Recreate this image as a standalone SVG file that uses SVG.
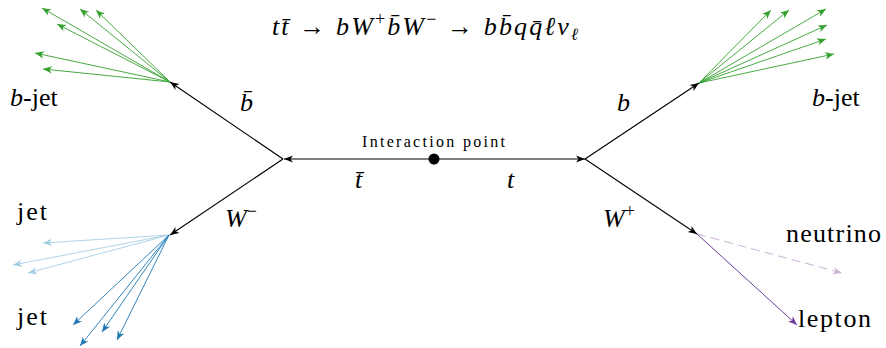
<svg xmlns="http://www.w3.org/2000/svg" width="886" height="348" viewBox="0 0 886 348">
<defs>
<marker id="ak" viewBox="-10 -5 11 10" refX="0" refY="0" markerWidth="11" markerHeight="10" markerUnits="userSpaceOnUse" orient="auto"><path d="M0,0 L-9,-3.6 L-6.5,0 L-9,3.6 Z" fill="#000"/></marker>
<marker id="ag" viewBox="-10 -5 11 10" refX="0" refY="0" markerWidth="11" markerHeight="10" markerUnits="userSpaceOnUse" orient="auto"><path d="M0,0 L-9,-3.6 L-6.5,0 L-9,3.6 Z" fill="#33a02c"/></marker>
<marker id="alb" viewBox="-10 -5 11 10" refX="0" refY="0" markerWidth="11" markerHeight="10" markerUnits="userSpaceOnUse" orient="auto"><path d="M0,0 L-9,-3.6 L-6.5,0 L-9,3.6 Z" fill="#a6cee3"/></marker>
<marker id="adb" viewBox="-10 -5 11 10" refX="0" refY="0" markerWidth="11" markerHeight="10" markerUnits="userSpaceOnUse" orient="auto"><path d="M0,0 L-9,-3.6 L-6.5,0 L-9,3.6 Z" fill="#1f78b4"/></marker>
<marker id="alp" viewBox="-10 -5 11 10" refX="0" refY="0" markerWidth="11" markerHeight="10" markerUnits="userSpaceOnUse" orient="auto"><path d="M0,0 L-9,-3.6 L-6.5,0 L-9,3.6 Z" fill="#cab2d6"/></marker>
<marker id="adp" viewBox="-10 -5 11 10" refX="0" refY="0" markerWidth="11" markerHeight="10" markerUnits="userSpaceOnUse" orient="auto"><path d="M0,0 L-9,-3.6 L-6.5,0 L-9,3.6 Z" fill="#6a3d9a"/></marker>
</defs>
<g id="connectors" fill="none">
  <g stroke="#000" stroke-width="1.1" marker-end="url(#ak)">
    <line x1="434" y1="159" x2="284" y2="159"/>
    <line x1="434" y1="159" x2="585" y2="159"/>
    <line x1="283" y1="159" x2="170" y2="82"/>
    <line x1="283" y1="159" x2="170" y2="235"/>
    <line x1="585" y1="159" x2="699" y2="83"/>
    <line x1="585" y1="159" x2="697" y2="234"/>
  </g>
  <g id="bbar-jet" stroke="#33a02c" stroke-width="0.9" marker-end="url(#ag)">
    <line x1="170" y1="82" x2="42" y2="8"/>
    <line x1="170" y1="82" x2="80" y2="9"/>
    <line x1="170" y1="82" x2="96" y2="10"/>
    <line x1="170" y1="82" x2="57" y2="24"/>
    <line x1="170" y1="82" x2="35" y2="53"/>
    <line x1="170" y1="82" x2="43" y2="69"/>
  </g>
  <g id="b-jet" stroke="#33a02c" stroke-width="0.9" marker-end="url(#ag)">
    <line x1="699" y1="83" x2="771" y2="10"/>
    <line x1="699" y1="83" x2="789" y2="10"/>
    <line x1="699" y1="83" x2="826" y2="9"/>
    <line x1="699" y1="83" x2="827" y2="25"/>
    <line x1="699" y1="83" x2="826" y2="39"/>
    <line x1="699" y1="83" x2="834" y2="54"/>
  </g>
  <g id="jet1" stroke="#a6cee3" stroke-width="0.9" marker-end="url(#alb)">
    <line x1="169" y1="235" x2="43" y2="243"/>
    <line x1="169" y1="235" x2="13" y2="265"/>
    <line x1="169" y1="235" x2="28" y2="273"/>
  </g>
  <g id="jet2" stroke="#1f78b4" stroke-width="0.9" marker-end="url(#adb)">
    <line x1="169" y1="235" x2="73" y2="325"/>
    <line x1="169" y1="235" x2="80" y2="346"/>
    <line x1="169" y1="235" x2="102" y2="332"/>
    <line x1="169" y1="235" x2="117" y2="340"/>
  </g>
  <line stroke="#cab2d6" stroke-width="1" stroke-dasharray="9 5" x1="697" y1="234" x2="842" y2="273" marker-end="url(#alp)"/>
  <line stroke="#6a3d9a" stroke-width="1" x1="697" y1="234" x2="797" y2="325" marker-end="url(#adp)"/>
</g>
<circle id="interaction-point" cx="434" cy="159" r="5.5" fill="#000"/>
<text id="ip-label" x="362" y="147" font-size="16" font-family="Liberation Serif" textLength="143" lengthAdjust="spacing">Interaction point</text>
<text id="title" x="272" y="35" font-size="26" font-family="Liberation Serif" textLength="306" lengthAdjust="spacing"><tspan font-style="italic">tt&#x304;</tspan> &#x2192; <tspan font-style="italic">bW</tspan><tspan font-size="18" dy="-10">+</tspan><tspan font-style="italic" dy="10">b&#x304;W</tspan><tspan font-size="18" dy="-10">&#x2212;</tspan><tspan dy="10"> &#x2192; </tspan><tspan font-style="italic">bb&#x304;qq&#x304;&#x2113;v</tspan><tspan font-style="italic" font-size="17" dy="5">&#x2113;</tspan></text>
<text id="tbar-label" x="355" y="188" font-size="26" font-family="Liberation Serif" font-style="italic">t&#x304;</text>
<text id="t-label" x="507" y="188" font-size="26" font-family="Liberation Serif" font-style="italic">t</text>
<text id="bbar-label" x="240" y="111" font-size="26" font-family="Liberation Serif" font-style="italic">b&#x304;</text>
<text id="b-label" x="617" y="111" font-size="26" font-family="Liberation Serif" font-style="italic">b</text>
<text id="wminus-label" x="225" y="227" font-size="26" font-family="Liberation Serif"><tspan font-style="italic">W</tspan><tspan font-size="18" dy="-10">&#x2212;</tspan></text>
<text id="wplus-label" x="603" y="227" font-size="26" font-family="Liberation Serif"><tspan font-style="italic">W</tspan><tspan font-size="18" dy="-10">+</tspan></text>
<text id="bjet-left" x="10" y="106" font-size="26" font-family="Liberation Serif"><tspan font-style="italic">b</tspan>-jet</text>
<text id="bjet-right" x="812" y="106" font-size="26" font-family="Liberation Serif"><tspan font-style="italic">b</tspan>-jet</text>
<text id="jet-upper" x="17" y="220" font-size="26" font-family="Liberation Serif" textLength="30" lengthAdjust="spacing">jet</text>
<text id="jet-lower" x="17" y="325" font-size="26" font-family="Liberation Serif" textLength="30" lengthAdjust="spacing">jet</text>
<text id="neutrino" x="786" y="242" font-size="26" font-family="Liberation Serif" textLength="95" lengthAdjust="spacing">neutrino</text>
<text id="lepton" x="798" y="327" font-size="26" font-family="Liberation Serif" textLength="73" lengthAdjust="spacing">lepton</text>
</svg>
